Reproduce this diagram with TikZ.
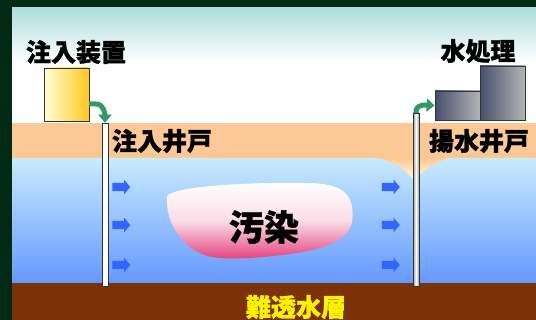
\documentclass[tikz,border=0pt]{standalone}
\usepackage{fontspec}
\usepackage{tikz}
\usetikzlibrary{arrows.meta,shapes.arrows}
\newfontfamily\cjk{Noto Sans CJK JP}[BoldFeatures={FakeBold=1.2}]

\definecolor{frame}{RGB}{0,42,20}
\definecolor{sky}{RGB}{174,220,220}
\definecolor{soil}{RGB}{252,200,150}
\definecolor{watertop}{RGB}{200,234,252}
\definecolor{waterbot}{RGB}{100,152,255}
\definecolor{clay}{RGB}{122,50,6}
\definecolor{pipegreen}{RGB}{51,153,102}
\definecolor{flowblue}{RGB}{51,102,255}
\definecolor{gold}{RGB}{255,200,30}
\definecolor{slate}{RGB}{70,80,108}
\definecolor{steel}{RGB}{180,180,182}
\definecolor{plume}{RGB}{228,62,122}

\begin{document}
\begin{tikzpicture}
[
  x=1pt, y=-1pt,
  lbl/.style={inner sep=0pt,font=\cjk\bfseries\fontsize{25}{28}\selectfont},
  unit/.style={draw=black!80,thick,inner sep=0pt,shading=axis},
  well/.style={draw=black!80,semithick,inner sep=0pt,minimum width=6pt},
  feed/.style={pipegreen,line width=5pt,-{Triangle[length=8pt,width=13pt]}},
  flow/.style={single arrow,fill=flowblue,inner xsep=0pt,inner ysep=4pt,minimum height=18pt,
    single arrow head extend=3pt,single arrow tip angle=100}
]
\useasboundingbox (0,0) rectangle (536,320);
\clip (0,0) rectangle (536,320);

% background and layers
\fill[frame] (0,0) rectangle (536,320);
\fill[white] (12,8) rectangle (536,123);
\shade[top color=sky,bottom color=white] (12,8) rectangle (536,62);
\fill[soil] (12,123) rectangle (536,160);
\shade[top color=watertop,bottom color=waterbot] (12,159) rectangle (536,284);
\fill[clay] (12,283) rectangle (536,320);

% drawdown cone at the pumping well
\shade[top color=soil,bottom color=yellow!15] (378,158) .. controls (393,160) and (405,170) .. (414,180)
  .. controls (424,170) and (436,162) .. (448,158) -- cycle;

% contaminated zone
\shade[top color=white,bottom color=plume,middle color=plume!18]
  (167,196) .. controls (175,186) and (250,182) .. (305,183)
  .. controls (340,183) and (356,192) .. (352,222)
  .. controls (348,242) and (320,250) .. (290,254)
  .. controls (260,258) and (230,260) .. (212,257)
  .. controls (185,252) and (165,225) .. (167,196) -- cycle;
\node[lbl,font=\cjk\bfseries\fontsize{35}{38}\selectfont] (osen) at (264,227) {汚染};

% wells
\node[well,fill=white,minimum height=163pt] (injwell) at (105,204.5) {};
\node[well,shading=axis,left color=gray!80,right color=gray!80,middle color=white,
  minimum height=173pt] (pumpwell) at (416,199.5) {};

% plant
\node[unit,left color=yellow!15,right color=gold,minimum width=45pt,minimum height=53pt]
  (injbox) at (66.5,94.5) {};
\node[unit,left color=slate,right color=steel,minimum width=45pt,minimum height=29pt]
  (treatA) at (457.5,105.5) {};
\node[unit,left color=slate,right color=steel,minimum width=45pt,minimum height=54pt]
  (treatB) at (502.5,93) {};

\coordinate (injout) at (89,104);
\coordinate (pumpout) at (416,113);
\draw[feed] (injout) -- (96,104) to[out=0,in=90] (injwell.north);
\draw[feed] (pumpout) -- (416,111) to[out=90,in=180] (425,105) -- (treatA.west);

% groundwater flow
\foreach \i/\y in {1/187,2/225,3/265} {
  \node[flow] (lf\i) at (119.5,\y) {};
  \node[flow] (rf\i) at (389,\y) {};
}

% labels
\node[lbl] (injlbl) at (76,52) {注入装置};
\node[lbl] (injwlbl) at (162,141) {注入井戸};
\node[lbl] (treatlbl) at (478,51) {水処理};
\node[lbl] (pumplbl) at (479,141) {揚水井戸};
\node[lbl,text=yellow] (claylbl) at (296,307) {難透水層};

\end{tikzpicture}
\end{document}
